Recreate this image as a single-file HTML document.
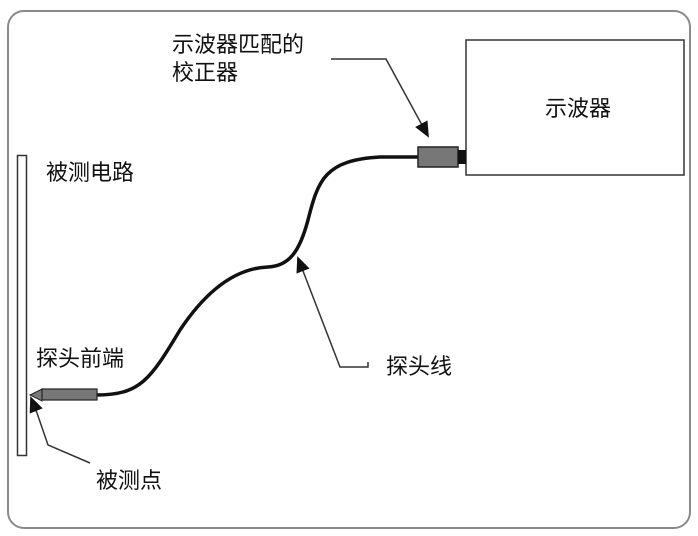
<!DOCTYPE html>
<html><head><meta charset="utf-8"><style>
html,body{margin:0;padding:0;background:#fff;}
</style></head><body>
<svg width="698" height="536" viewBox="0 0 698 536" xmlns="http://www.w3.org/2000/svg" style="display:block">
<defs>
<marker id="ah" markerWidth="16" markerHeight="16" refX="14" refY="7" orient="auto" markerUnits="userSpaceOnUse" viewBox="0 0 16 14">
<path d="M0,0 L16,7 L0,14 z" fill="#111"/>
</marker>
</defs>
<rect x="8" y="11" width="682" height="517" rx="16" fill="#fff" stroke="#8a8a8a" stroke-width="2"/>
<rect x="466" y="40" width="218" height="135" fill="#fff" stroke="#333" stroke-width="1.5"/>
<rect x="17.5" y="155.5" width="9" height="300" fill="#fff" stroke="#333" stroke-width="1.5"/>
<g font-family="Liberation Sans, Noto Sans CJK SC, sans-serif" font-size="22" fill="#111">
<text x="172" y="52">示波器匹配的</text>
<text x="172" y="80">校正器</text>
<text x="46" y="180">被测电路</text>
<text x="36" y="366">探头前端</text>
<text x="386" y="374">探头线</text>
<text x="96" y="488">被测点</text>
<text x="545" y="116">示波器</text>
</g>
<!-- cable -->
<path d="M96,395 C140,395 150,380 180,330 C210,285 240,268 268,267 C290,266 300,250 308,220 C318,180 325,160 380,157 L418,157" fill="none" stroke="#111" stroke-width="3.5"/>
<!-- connector -->
<rect x="418" y="147" width="40" height="20" fill="#777" stroke="#222" stroke-width="1.5"/>
<rect x="458" y="150" width="8" height="14" fill="#111"/>
<!-- probe tip -->
<polygon points="30,395 42,389 42,401" fill="#777" stroke="#222" stroke-width="1"/>
<rect x="42" y="389" width="55" height="11" fill="#777" stroke="#222" stroke-width="1.2"/>
<!-- arrows -->
<polyline points="331,59 386,59 428,136" fill="none" stroke="#333" stroke-width="1.5" marker-end="url(#ah)"/>
<polyline points="368,362 368,367 340,367 298,258" fill="none" stroke="#333" stroke-width="1.5" marker-end="url(#ah)"/>
<polyline points="90,463 48,445 37,413 31,398" fill="none" stroke="#333" stroke-width="1.5" marker-end="url(#ah)"/>
</svg>
</body></html>
